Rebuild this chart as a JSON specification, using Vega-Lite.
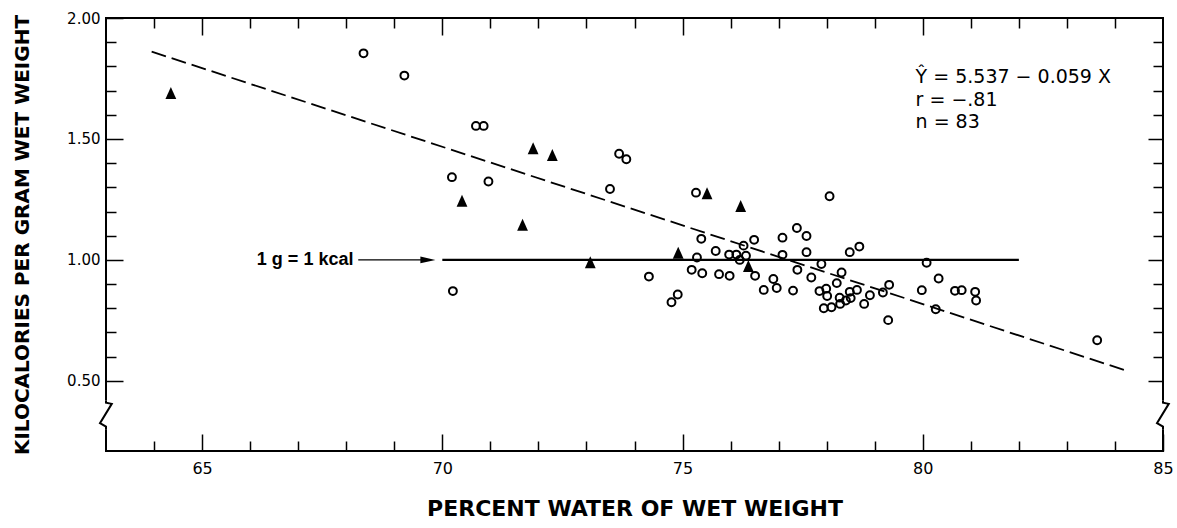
{
  "$schema": "https://vega.github.io/schema/vega-lite/v6.json",
  "width": 1057,
  "height": 433,
  "autosize": {"type": "none"},
  "padding": {"left": 106, "top": 18, "right": 14, "bottom": 77},
  "background": "white",
  "config": {"view": {"stroke": "black", "strokeWidth": 2}, "font": "DejaVu Sans"},
  "datasets": {
    "circles": [
      {"x": 68.36, "y": 1.854}, {"x": 69.21, "y": 1.762}, {"x": 70.70, "y": 1.554}, {"x": 70.86, "y": 1.554},
      {"x": 70.20, "y": 1.342}, {"x": 70.96, "y": 1.324}, {"x": 73.68, "y": 1.439}, {"x": 73.83, "y": 1.416},
      {"x": 73.49, "y": 1.293}, {"x": 75.28, "y": 1.278}, {"x": 77.38, "y": 1.132}, {"x": 75.39, "y": 1.087},
      {"x": 76.49, "y": 1.083}, {"x": 77.08, "y": 1.092}, {"x": 76.27, "y": 1.059}, {"x": 75.69, "y": 1.037},
      {"x": 77.08, "y": 1.021}, {"x": 75.30, "y": 1.010}, {"x": 75.97, "y": 1.022}, {"x": 76.12, "y": 1.022},
      {"x": 76.32, "y": 1.017}, {"x": 76.19, "y": 1.0}, {"x": 77.39, "y": 0.959}, {"x": 74.30, "y": 0.931},
      {"x": 75.19, "y": 0.959}, {"x": 75.41, "y": 0.945}, {"x": 75.76, "y": 0.941}, {"x": 75.98, "y": 0.934},
      {"x": 76.51, "y": 0.934}, {"x": 76.89, "y": 0.921}, {"x": 76.96, "y": 0.884}, {"x": 76.69, "y": 0.876},
      {"x": 77.30, "y": 0.873}, {"x": 74.90, "y": 0.857}, {"x": 74.77, "y": 0.825}, {"x": 77.58, "y": 1.099},
      {"x": 77.58, "y": 1.032}, {"x": 77.68, "y": 0.927}, {"x": 77.89, "y": 0.983}, {"x": 78.31, "y": 0.948},
      {"x": 78.21, "y": 0.904}, {"x": 77.85, "y": 0.871}, {"x": 77.99, "y": 0.881}, {"x": 78.01, "y": 0.851},
      {"x": 77.94, "y": 0.800}, {"x": 78.10, "y": 0.804}, {"x": 78.28, "y": 0.818}, {"x": 78.40, "y": 0.832},
      {"x": 78.50, "y": 0.842}, {"x": 78.27, "y": 0.844}, {"x": 78.48, "y": 0.868}, {"x": 78.63, "y": 0.876},
      {"x": 78.78, "y": 0.818}, {"x": 78.90, "y": 0.854}, {"x": 78.48, "y": 1.032}, {"x": 78.68, "y": 1.055},
      {"x": 79.17, "y": 0.865}, {"x": 79.30, "y": 0.897}, {"x": 79.28, "y": 0.751}, {"x": 80.08, "y": 0.988},
      {"x": 79.98, "y": 0.875}, {"x": 80.33, "y": 0.923}, {"x": 80.27, "y": 0.796}, {"x": 80.67, "y": 0.872},
      {"x": 80.81, "y": 0.875}, {"x": 81.09, "y": 0.868}, {"x": 81.11, "y": 0.832}, {"x": 83.63, "y": 0.668},
      {"x": 78.06, "y": 1.263}, {"x": 70.22, "y": 0.871}
    ],
    "triangles": [
      {"x": 64.35, "y": 1.69}, {"x": 70.41, "y": 1.245}, {"x": 71.89, "y": 1.462}, {"x": 72.29, "y": 1.434},
      {"x": 71.67, "y": 1.145}, {"x": 75.51, "y": 1.276}, {"x": 76.21, "y": 1.223}, {"x": 74.91, "y": 1.03},
      {"x": 73.08, "y": 0.99}, {"x": 76.37, "y": 0.975}
    ],
    "fit": [{"x": 63.95, "y": 1.861}, {"x": 84.3, "y": 0.538}],
    "ref": [{"x": 70, "x2": 82, "y": 1.0}],
    "arrow": [{"x": 68.25, "x2": 69.6, "y": 1.0}],
    "arrowhead": [{"x": 69.70, "y": 1.0}],
    "reflabel": [{"x": 68.15, "y": 1.0, "t": "1 g = 1 kcal"}],
    "notes": [
      {"x": 79.85, "y": 1.757, "t": "Ŷ = 5.537 − 0.059 X"},
      {"x": 79.85, "y": 1.661, "t": "r = −.81"},
      {"x": 79.85, "y": 1.571, "t": "n = 83"}
    ],
    "mask": [{"x": 63, "y": 0.300, "y2": 0.418}, {"x": 85, "y": 0.300, "y2": 0.418}],
    "brk": [
      {"side": "L", "i": 0, "x": 63, "y": 0.418},
      {"side": "L", "i": 1, "x": 63, "y": 0.410},
      {"side": "L", "i": 2, "x": 63.12, "y": 0.405},
      {"side": "L", "i": 3, "x": 62.875, "y": 0.325},
      {"side": "L", "i": 4, "x": 63, "y": 0.311},
      {"side": "L", "i": 5, "x": 63, "y": 0.300},
      {"side": "R", "i": 0, "x": 85, "y": 0.418},
      {"side": "R", "i": 1, "x": 85, "y": 0.410},
      {"side": "R", "i": 2, "x": 85.12, "y": 0.405},
      {"side": "R", "i": 3, "x": 84.875, "y": 0.325},
      {"side": "R", "i": 4, "x": 85, "y": 0.311},
      {"side": "R", "i": 5, "x": 85, "y": 0.300}
    ]
  },
  "resolve": {"axis": {"x": "independent", "y": "independent"}},
  "layer": [
    {
      "data": {"name": "circles"},
      "mark": {"type": "point", "shape": "circle", "filled": false, "stroke": "black", "strokeWidth": 2, "size": 62, "opacity": 1},
      "encoding": {
        "x": {
          "field": "x", "type": "quantitative",
          "scale": {"domain": [63, 85], "nice": false, "zero": false},
          "axis": {
            "orient": "bottom", "values": [65, 70, 75, 80, 85],
            "offset": -17, "tickSize": 17, "domain": false,
            "labelPadding": 9, "labelOverlap": false, "labelFlush": false,
            "tickColor": "black", "tickWidth": 1.5,
            "labelFontSize": 16, "labelColor": "black",
            "title": "PERCENT   WATER   OF   WET   WEIGHT",
            "titleFontSize": 22, "titleFontWeight": "bold", "titleColor": "black", "titlePadding": 22,
            "grid": false
          }
        },
        "y": {
          "field": "y", "type": "quantitative",
          "scale": {"domain": [0.21, 2.0], "nice": false, "zero": false},
          "axis": {
            "orient": "left", "values": [0.5, 1.0, 1.5, 2.0], "format": ".2f",
            "offset": -17, "tickSize": 17, "domain": false,
            "labelPadding": 6, "labelOverlap": false, "labelFlush": false,
            "tickColor": "black", "tickWidth": 1.5,
            "labelFontSize": 15, "labelColor": "black",
            "title": "KILOCALORIES  PER  GRAM  WET  WEIGHT",
            "titleFontSize": 20, "titleFontWeight": "bold", "titleColor": "black", "titlePadding": 34,
            "grid": false
          }
        }
      }
    },
    {
      "data": {"name": "triangles"},
      "mark": {"type": "point", "shape": "M-0.9,1L0,-1L0.9,1Z", "filled": true, "fill": "black", "strokeWidth": 0, "size": 144, "opacity": 1},
      "encoding": {
        "x": {
          "field": "x", "type": "quantitative",
          "axis": {
            "orient": "bottom",
            "values": [64, 66, 67, 68, 69, 71, 72, 73, 74, 76, 77, 78, 79, 81, 82, 83, 84],
            "offset": -10, "tickSize": 10, "domain": false, "labels": false, "title": null,
            "tickColor": "black", "tickWidth": 1.5, "grid": false
          }
        },
        "y": {
          "field": "y", "type": "quantitative",
          "axis": {
            "orient": "left",
            "values": [0.6, 0.7, 0.8, 0.9, 1.1, 1.2, 1.3, 1.4, 1.6, 1.7, 1.8, 1.9],
            "offset": -10, "tickSize": 10, "domain": false, "labels": false, "title": null,
            "tickColor": "black", "tickWidth": 1.5, "grid": false
          }
        }
      }
    },
    {
      "data": {"name": "fit"},
      "mark": {"type": "line", "color": "black", "strokeWidth": 1.8, "strokeDash": [15, 6]},
      "encoding": {
        "x": {
          "field": "x", "type": "quantitative",
          "axis": {
            "orient": "top", "values": [65, 70, 75, 80],
            "offset": -17, "tickSize": 17, "domain": false, "labels": false, "title": null,
            "tickColor": "black", "tickWidth": 1.5, "grid": false
          }
        },
        "y": {
          "field": "y", "type": "quantitative",
          "axis": {
            "orient": "right", "values": [0.5, 1.0, 1.5],
            "offset": -15, "tickSize": 15, "domain": false, "labels": false, "title": null,
            "tickColor": "black", "tickWidth": 1.5, "grid": false
          }
        }
      }
    },
    {
      "data": {"name": "ref"},
      "mark": {"type": "rule", "color": "black", "strokeWidth": 2.2},
      "encoding": {
        "x": {
          "field": "x", "type": "quantitative",
          "axis": {
            "orient": "top",
            "values": [64, 66, 67, 68, 69, 71, 72, 73, 74, 76, 77, 78, 79, 81, 82, 83, 84],
            "offset": -10, "tickSize": 10, "domain": false, "labels": false, "title": null,
            "tickColor": "black", "tickWidth": 1.5, "grid": false
          }
        },
        "x2": {"field": "x2"},
        "y": {
          "field": "y", "type": "quantitative",
          "axis": {
            "orient": "right",
            "values": [0.6, 0.7, 0.8, 0.9, 1.1, 1.2, 1.3, 1.4, 1.6, 1.7, 1.8, 1.9],
            "offset": -10, "tickSize": 10, "domain": false, "labels": false, "title": null,
            "tickColor": "black", "tickWidth": 1.5, "grid": false
          }
        }
      }
    },
    {
      "data": {"name": "arrow"},
      "mark": {"type": "rule", "color": "black", "strokeWidth": 1.2},
      "encoding": {
        "x": {"field": "x", "type": "quantitative", "axis": null},
        "x2": {"field": "x2"},
        "y": {"field": "y", "type": "quantitative", "axis": null}
      }
    },
    {
      "data": {"name": "arrowhead"},
      "mark": {"type": "point", "shape": "M-1,-0.44L1,0L-1,0.44Z", "filled": true, "fill": "black", "strokeWidth": 0, "size": 225, "opacity": 1},
      "encoding": {
        "x": {"field": "x", "type": "quantitative", "axis": null},
        "y": {"field": "y", "type": "quantitative", "axis": null}
      }
    },
    {
      "data": {"name": "reflabel"},
      "mark": {"type": "text", "align": "right", "baseline": "middle", "font": "Liberation Sans", "fontWeight": "bold", "fontSize": 18, "color": "black"},
      "encoding": {
        "x": {"field": "x", "type": "quantitative", "axis": null},
        "y": {"field": "y", "type": "quantitative", "axis": null},
        "text": {"field": "t"}
      }
    },
    {
      "data": {"name": "notes"},
      "mark": {"type": "text", "align": "left", "baseline": "middle", "fontSize": 19, "color": "black"},
      "encoding": {
        "x": {"field": "x", "type": "quantitative", "axis": null},
        "y": {"field": "y", "type": "quantitative", "axis": null},
        "text": {"field": "t"}
      }
    },
    {
      "data": {"name": "mask"},
      "mark": {"type": "rule", "color": "white", "strokeWidth": 6},
      "encoding": {
        "x": {"field": "x", "type": "quantitative", "axis": null},
        "y": {"field": "y", "type": "quantitative", "axis": null},
        "y2": {"field": "y2"}
      }
    },
    {
      "data": {"name": "brk"},
      "mark": {"type": "line", "color": "black", "strokeWidth": 2},
      "encoding": {
        "x": {"field": "x", "type": "quantitative", "axis": null},
        "y": {"field": "y", "type": "quantitative", "axis": null},
        "detail": {"field": "side"},
        "order": {"field": "i", "type": "quantitative"}
      }
    }
  ]
}
